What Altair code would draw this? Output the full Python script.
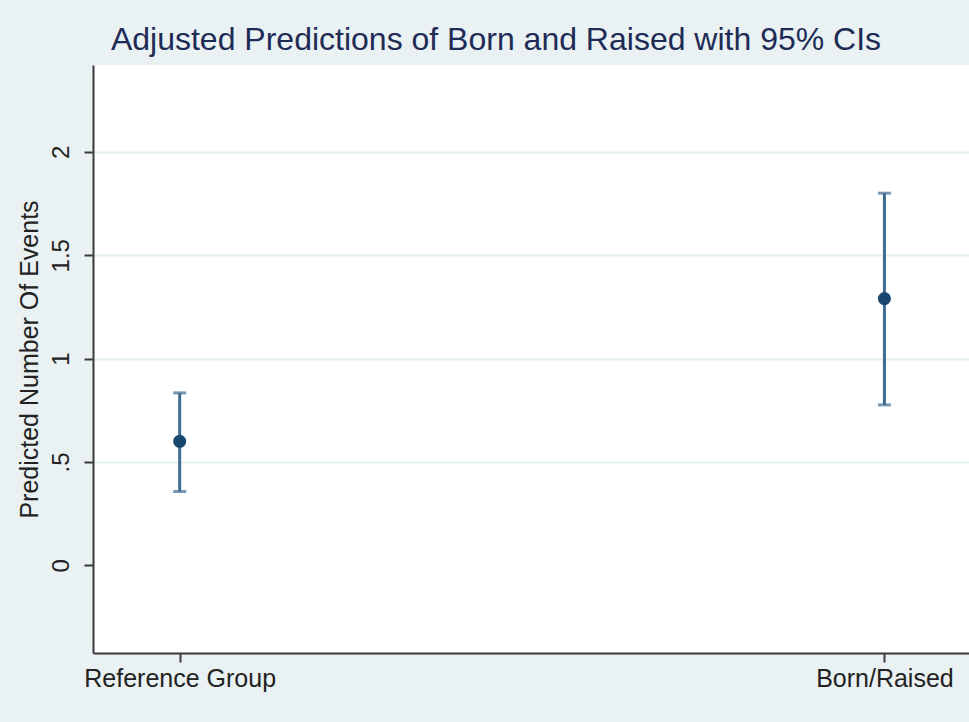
import altair as alt
import pandas as pd

# Adjusted predictions (margins) with 95% confidence intervals
groups = ["Reference Group", "Born/Raised"]
group_pos = [0, 1]
predicted = [0.60, 1.29]
ci_low = [0.357, 0.776]
ci_high = [0.834, 1.80]

y_ticks = [0, 0.5, 1, 1.5, 2]

df = pd.DataFrame({
    "group": groups,
    "pos": group_pos,
    "pred": predicted,
    "lo": ci_low,
    "hi": ci_high,
})

NAVY = "#1a476f"
CI_BLUE = "#3f6b92"
FONT = "Liberation Sans"

label_map = " : ".join(
    f"datum.value == {p} ? '{g}'" for p, g in zip(group_pos, groups)
) + " : ''"

x_enc = alt.X(
    "pos:Q",
    scale=alt.Scale(domain=[-0.123, 1.12], nice=False, zero=False),
    axis=alt.Axis(
        values=group_pos,
        labelExpr=label_map,
        title=None,
        grid=False,
        tickSize=9,
        labelPadding=4,
        labelFontSize=25,
        labelLimit=500,
        labelOverlap=False,
    ),
)

y_axis = alt.Axis(
    values=y_ticks,
    labelExpr="datum.value == 0.5 ? '.5' : format(datum.value, '~g')",
    labelAngle=270,
    labelAlign="center",
    labelBaseline="bottom",
    labelPadding=11,
    labelFontSize=24,
    tickSize=9,
    title="Predicted Number Of Events",
    titleFontSize=25,
    titleFontWeight="normal",
    titlePadding=7,
    grid=True,
    gridColor="#e6eff1",
    gridWidth=2,
    gridOpacity={"condition": {"test": "datum.value === 0", "value": 0}, "value": 1},
)

y_scale = alt.Scale(domain=[-0.424, 2.42], nice=False, zero=False)

base = alt.Chart(df)

ci = base.mark_rule(color=CI_BLUE, strokeWidth=3).encode(
    x=x_enc,
    y=alt.Y("lo:Q", scale=y_scale, axis=y_axis),
    y2="hi:Q",
)

cap_lo = base.mark_tick(color=CI_BLUE, orient="horizontal", size=13, thickness=3).encode(
    x="pos:Q", y="lo:Q"
)
cap_hi = base.mark_tick(color=CI_BLUE, orient="horizontal", size=13, thickness=3).encode(
    x="pos:Q", y="hi:Q"
)

points = base.mark_point(filled=True, size=170, color=NAVY, opacity=1).encode(
    x="pos:Q", y="pred:Q"
)

chart = (
    alt.layer(ci, cap_lo, cap_hi, points)
    .properties(
        width=876,
        height=588,
        autosize=alt.AutoSizeParams(type="none"),
        padding={"left": 93, "top": 65, "right": 0, "bottom": 69},
        background="#e9f1f3",
        title=alt.TitleParams(
            "Adjusted Predictions of Born and Raised with 95% CIs",
            fontSize=32,
            font=FONT,
            fontWeight="normal",
            color="#1e2b55",
            anchor="middle",
            dx=-35,
            dy=33,
            offset=16,
            baseline="alphabetic",
        ),
    )
    .configure(font=FONT)
    .configure_view(fill="white", stroke=None)
    .configure_axis(
        domainColor="#3a3a3a",
        domainWidth=2,
        tickColor="#3a3a3a",
        tickWidth=2,
        labelColor="#222222",
        titleColor="#222222",
        labelFont=FONT,
        titleFont=FONT,
    )
)

chart.save("out.html", embed_options={"renderer": "svg", "actions": False})
